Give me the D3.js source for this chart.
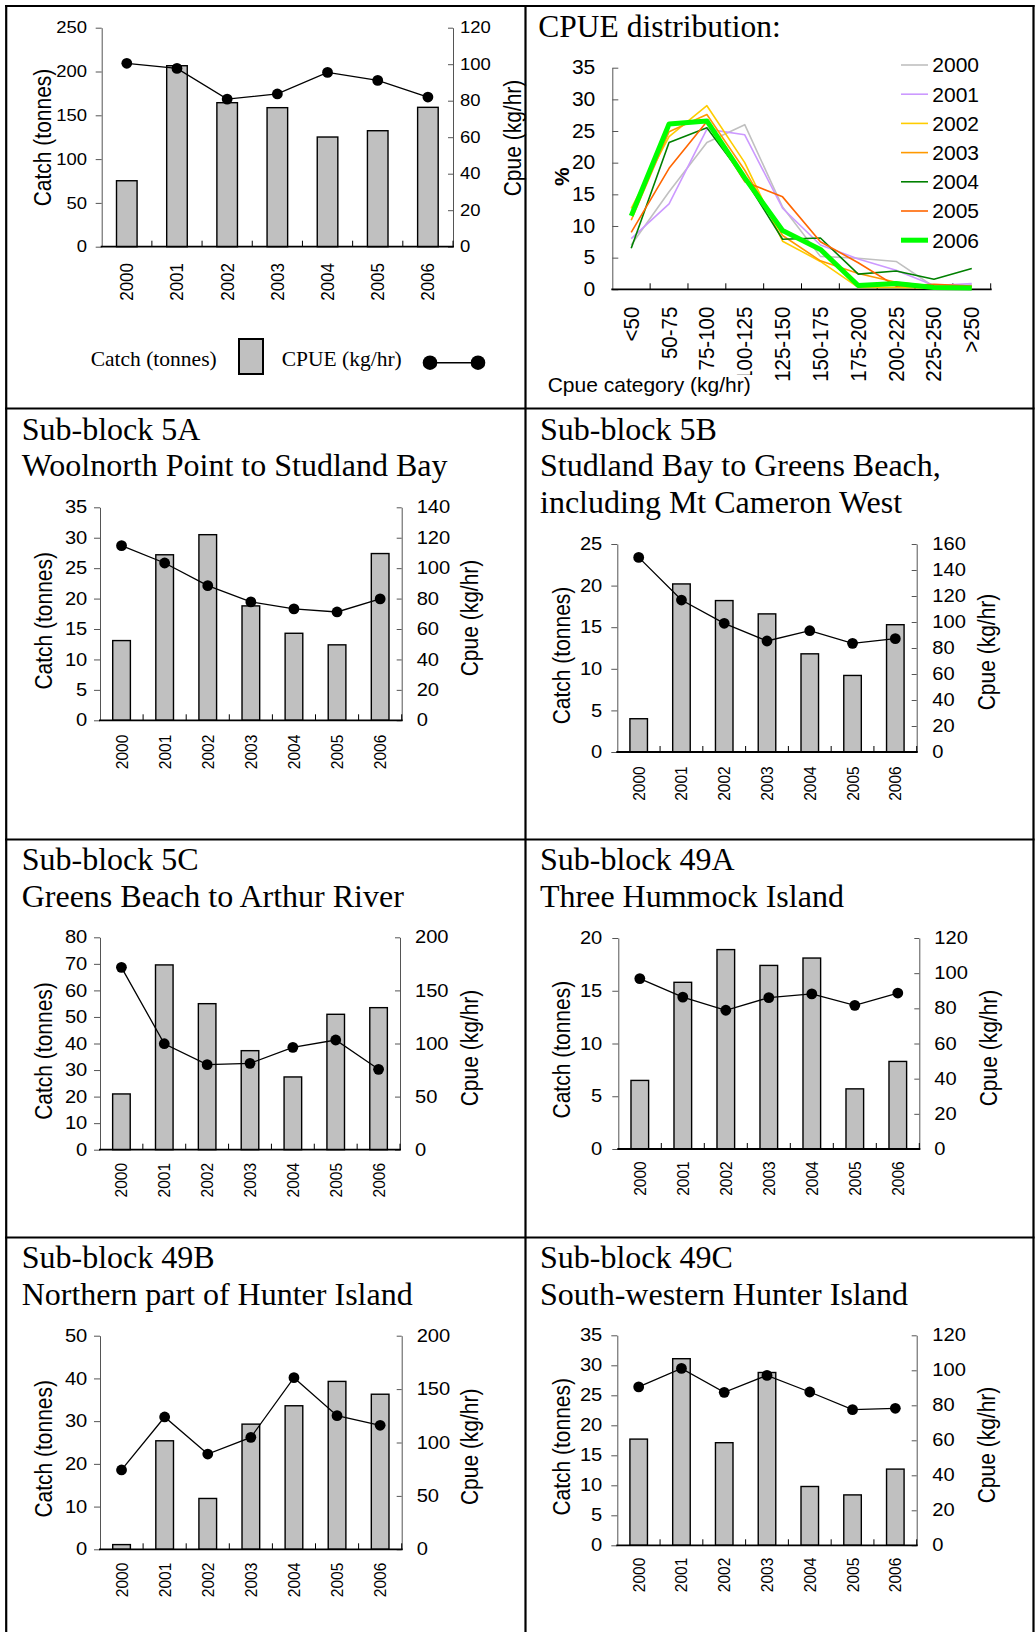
<!DOCTYPE html>
<html><head><meta charset="utf-8">
<script src="https://cdn.jsdelivr.net/npm/d3@7"></script>
<style>
body{margin:0;background:#fff;}
svg text{font-family:"Liberation Sans",Arial,sans-serif;fill:#000;}
svg text.serif{font-family:"Liberation Serif","Times New Roman",serif;}
</style></head><body>
<svg id="c" width="1035" height="1632"></svg>
<script>
// ---------------- DATA ----------------
const years = ["2000","2001","2002","2003","2004","2005","2006"];

// Overview (all sub-blocks)
const catchAll = [75.3, 206.6, 164.4, 158.7, 125.2, 132.4, 159.1];
const cpueAll  = [100.5, 97.7, 80.9, 83.7, 95.5, 91.1, 82.0];
const catchTicksAll = [0, 50, 100, 150, 200, 250];
const cpueTicksAll  = [0, 20, 40, 60, 80, 100, 120];

// CPUE distribution
const cpueCats = ["<50","50-75","75-100","100-125","125-150","150-175","175-200","200-225","225-250",">250"];
const distYears = ["2000","2001","2002","2003","2004","2005","2006"];
const dist2000 = [7.0, 15.4, 23.2, 26.0, 13.0, 5.2, 4.9, 4.4, 0.4, 0.7];
const dist2001 = [8.0, 13.5, 25.3, 24.4, 12.8, 7.0, 4.8, 3.0, 0.6, 0.9];
const dist2002 = [12.8, 24.1, 29.0, 20.0, 7.6, 4.4, 0.3, 0.3, 0.2, 0.2];
const dist2003 = [10.9, 24.9, 27.6, 18.8, 8.5, 4.5, 2.5, 1.1, 0.5, 0.4];
const dist2004 = [6.5, 23.2, 25.5, 17.5, 7.9, 8.1, 2.4, 2.9, 1.6, 3.3];
const dist2005 = [9.0, 19.1, 26.5, 17.0, 14.6, 7.5, 4.2, 0.5, 0.8, 0.5];
const dist2006 = [11.6, 26.1, 26.6, 17.6, 9.3, 6.3, 0.6, 0.9, 0.3, 0.2];
const distColors = ["#c0c0c0","#cc99ff","#ffcc00","#ff9900","#008000","#ff6600","#00ff00"];
const pctTicks = [0, 5, 10, 15, 20, 25, 30, 35];

// Sub-block 5A
const title5A = ["Sub-block 5A", "Woolnorth Point to Studland Bay"];
const catch5A = [13.1, 27.2, 30.5, 18.8, 14.3, 12.4, 27.4];
const cpue5A  = [114.8, 103.4, 88.5, 77.8, 73.2, 71.2, 79.8];
const catchTicks5A = [0, 5, 10, 15, 20, 25, 30, 35];
const cpueTicks5A  = [0, 20, 40, 60, 80, 100, 120, 140];

// Sub-block 5B
const title5B = ["Sub-block 5B", "Studland Bay to Greens Beach,", "including Mt Cameron West"];
const catch5B = [4.0, 20.2, 18.2, 16.6, 11.8, 9.2, 15.3];
const cpue5B  = [149.7, 116.9, 99.0, 85.4, 93.3, 83.6, 87.2];
const catchTicks5B = [0, 5, 10, 15, 20, 25];
const cpueTicks5B  = [0, 20, 40, 60, 80, 100, 120, 140, 160];

// Sub-block 5C
const title5C = ["Sub-block 5C", "Greens Beach to Arthur River"];
const catch5C = [21.0, 69.6, 55.0, 37.3, 27.4, 51.0, 53.5];
const cpue5C  = [171.7, 99.8, 80.1, 81.3, 96.4, 103.3, 75.7];
const catchTicks5C = [0, 10, 20, 30, 40, 50, 60, 70, 80];
const cpueTicks5C  = [0, 50, 100, 150, 200];

// Sub-block 49A
const title49A = ["Sub-block 49A", "Three Hummock Island"];
const catch49A = [6.5, 15.8, 18.9, 17.4, 18.1, 5.7, 8.3];
const cpue49A  = [96.9, 86.4, 78.9, 86.1, 88.2, 81.7, 88.7];
const catchTicks49A = [0, 5, 10, 15, 20];
const cpueTicks49A  = [0, 20, 40, 60, 80, 100, 120];

// Sub-block 49B
const title49B = ["Sub-block 49B", "Northern part of Hunter Island"];
const catch49B = [1.1, 25.4, 11.9, 29.3, 33.6, 39.3, 36.3];
const cpue49B  = [74.3, 123.9, 89.2, 104.8, 160.7, 125.1, 116.1];
const catchTicks49B = [0, 10, 20, 30, 40, 50];
const cpueTicks49B  = [0, 50, 100, 150, 200];

// Sub-block 49C
const title49C = ["Sub-block 49C", "South-western Hunter Island"];
const catch49C = [17.7, 31.1, 17.1, 28.8, 9.8, 8.4, 12.7];
const cpue49C  = [90.5, 101.1, 87.4, 97.1, 87.6, 77.5, 78.3];
const catchTicks49C = [0, 5, 10, 15, 20, 25, 30, 35];
const cpueTicks49C  = [0, 20, 40, 60, 80, 100, 120];

// ---------------- LAYOUT ----------------
const svg = d3.select("#c");

// horizontally widen axis tick labels while keeping their anchor point
function stretch(sel, sx) {
  sel.each(function() {
    const t = d3.select(this);
    const x = +t.attr("x") || 0;
    t.attr("x", x / sx).attr("transform", `scale(${sx},1)`);
  });
}

function barPanel(lay, catchVals, cpueVals, ticksL, ticksR) {
  const g = svg.append("g");
  const x = d3.scaleBand().domain(years).range([lay.L, lay.R]);
  const bw = x.bandwidth();
  const yL = d3.scaleLinear().domain([0, d3.max(ticksL)]).range([lay.y0, lay.top]);
  const yR = d3.scaleLinear().domain([0, d3.max(ticksR)]).range([lay.y0, lay.top]);
  const rows = years.map((y, i) => ({y, c: catchVals[i], p: cpueVals[i]}));

  g.selectAll("rect.bar").data(rows).join("rect").attr("class","bar")
    .attr("x", d => x(d.y) + bw * 0.295).attr("width", bw * 0.41)
    .attr("y", d => yL(d.c)).attr("height", d => lay.y0 - yL(d.c))
    .attr("fill", "#c0c0c0").attr("stroke", "#000").attr("stroke-width", 1.4);

  const al = g.append("g").attr("transform", `translate(${lay.L},0)`)
    .call(d3.axisLeft(yL).tickValues(ticksL).tickSizeInner(6).tickSizeOuter(0)
      .tickPadding(lay.L - 6 - lay.lle));
  al.select(".domain").attr("stroke", "#555");
  al.selectAll(".tick line").attr("stroke", "#555");
  al.selectAll("text").attr("font-size", lay.tf).call(stretch, lay.sx);

  const ar = g.append("g").attr("transform", `translate(${lay.R},0)`)
    .call(d3.axisRight(yR).tickValues(ticksR).tickSizeInner(-5).tickSizeOuter(0)
      .tickPadding(lay.rls - lay.R));
  ar.select(".domain").attr("stroke", "#555");
  ar.selectAll(".tick line").attr("stroke", "#555");
  ar.selectAll("text").attr("font-size", lay.tf).call(stretch, lay.sx);

  // x axis baseline and separators
  g.append("line").attr("x1", lay.L - 1).attr("x2", lay.R + 1)
    .attr("y1", lay.y0).attr("y2", lay.y0).attr("stroke", "#000").attr("stroke-width", 1.8);
  const bounds = years.slice(1).map(y => x(y)).concat([x.range()[1]]);
  g.selectAll("line.sep").data(bounds).join("line").attr("class","sep")
    .attr("x1", d => d).attr("x2", d => d).attr("y1", lay.y0).attr("y2", lay.y0 - 6)
    .attr("stroke", "#000").attr("stroke-width", 1);

  const xa = g.append("g").attr("transform", `translate(0,${lay.y0})`)
    .call(d3.axisBottom(x).tickSize(0).tickPadding(0));
  xa.select(".domain").remove();
  xa.selectAll("text").attr("transform", `scale(${lay.ysx},1) rotate(-90)`).attr("text-anchor", "end")
    .attr("x", -(lay.ye - lay.y0)).attr("y", 0).attr("dy", "0.35em").attr("font-size", lay.yf);

  const line = d3.line().x(d => x(d.y) + bw / 2).y(d => yR(d.p));
  g.append("path").datum(rows).attr("d", line).attr("fill", "none")
    .attr("stroke", "#000").attr("stroke-width", 1.3);
  g.selectAll("circle").data(rows).join("circle")
    .attr("cx", d => x(d.y) + bw / 2).attr("cy", d => yR(d.p)).attr("r", 5.4).attr("fill", "#000");

  g.append("text").attr("transform", `translate(${lay.lt[0]},${lay.lt[1]}) scale(1.12,1) rotate(-90)`)
    .attr("text-anchor", "middle").attr("dy", "0.35em").attr("font-size", lay.af).text("Catch (tonnes)");
  g.append("text").attr("transform", `translate(${lay.rt[0]},${lay.rt[1]}) scale(1.12,1) rotate(-90)`)
    .attr("text-anchor", "middle").attr("dy", "0.35em").attr("font-size", lay.af).text("Cpue (kg/hr)");

  if (lay.title) {
    g.selectAll("text.ttl").data(lay.title).join("text").attr("class", "serif ttl")
      .attr("x", lay.tx).attr("y", (d, i) => lay.ty + i * 36.6)
      .attr("font-size", 32).text(d => d);
  }
  return g;
}

// Overview
const gOv = barPanel({L:101.7, R:453, y0:246.7, top:27.7, lle:87, rls:460,
  lt:[43,137.5], rt:[513,138], ye:263, tf:16.5, sx:1.12, yf:17, ysx:1.08, af:21},
  catchAll, cpueAll, catchTicksAll, cpueTicksAll);
// legend
gOv.append("text").attr("class","serif").attr("x", 90.7).attr("y", 366).attr("font-size", 21.5).text("Catch (tonnes)");
gOv.append("rect").attr("x", 239).attr("y", 339).attr("width", 24).attr("height", 35)
  .attr("fill", "#c0c0c0").attr("stroke", "#000").attr("stroke-width", 2);
gOv.append("text").attr("class","serif").attr("x", 281.7).attr("y", 366).attr("font-size", 21.5).text("CPUE (kg/hr)");
gOv.append("line").attr("x1", 430).attr("x2", 478).attr("y1", 362.7).attr("y2", 362.7).attr("stroke", "#000").attr("stroke-width", 1.5);
gOv.selectAll("circle.lg").data([430, 478]).join("circle").attr("class","lg")
  .attr("cx", d => d).attr("cy", 362.7).attr("r", 7.3).attr("fill", "#000");

const sub = {tf:17.5, sx:1.15, yf:15.5, ysx:1.1, af:21};
barPanel(Object.assign({L:100, R:401.7, y0:720.3, top:507.3, lle:87.3, rls:416.7, lt:[43.3,620.8], rt:[470,618],
  ye:734.7, title:title5A, tx:21.7, ty:439.7}, sub), catch5A, cpue5A, catchTicks5A, cpueTicks5A);
barPanel(Object.assign({L:617.3, R:916.7, y0:752, top:544, lle:602.3, rls:932.3, lt:[561.7,655.5], rt:[986.7,652],
  ye:766.3, title:title5B, tx:540, ty:439.7}, sub), catch5B, cpue5B, catchTicks5B, cpueTicks5B);
barPanel(Object.assign({L:100, R:400, y0:1149.7, top:937.3, lle:87.3, rls:415, lt:[43.3,1051], rt:[470,1048],
  ye:1163, title:title5C, tx:21.7, ty:870.3}, sub), catch5C, cpue5C, catchTicks5C, cpueTicks5C);
barPanel(Object.assign({L:618.3, R:919.3, y0:1149, top:938, lle:602.3, rls:934.3, lt:[561.7,1049.7], rt:[988.3,1048],
  ye:1161.3, title:title49A, tx:540, ty:870.3}, sub), catch49A, cpue49A, catchTicks49A, cpueTicks49A);
barPanel(Object.assign({L:100, R:401.7, y0:1549.3, top:1335.7, lle:87.3, rls:416.7, lt:[43.3,1448.8], rt:[470,1446.8],
  ye:1562.7, title:title49B, tx:21.7, ty:1268.3}, sub), catch49B, cpue49B, catchTicks49B, cpueTicks49B);
barPanel(Object.assign({L:617.3, R:916.7, y0:1545.3, top:1335.3, lle:602.3, rls:932.3, lt:[561.7,1446.8], rt:[986.7,1445],
  ye:1557.7, title:title49C, tx:540, ty:1268.3}, sub), catch49C, cpue49C, catchTicks49C, cpueTicks49C);

// ---------------- CPUE distribution ----------------
(function(){
  const g = svg.append("g");
  const L = 612.3, R = 990.7, y0 = 289.3, top = 67.7;
  const x = d3.scaleBand().domain(cpueCats).range([L, R]);
  const bw = x.bandwidth();
  const y = d3.scaleLinear().domain([0, d3.max(pctTicks)]).range([y0, top]);
  const series = [dist2000, dist2001, dist2002, dist2003, dist2004, dist2005, dist2006];

  g.append("text").attr("class","serif").attr("x", 538.3).attr("y", 36.7).attr("font-size", 31.5).text("CPUE distribution:");

  const ay = g.append("g").attr("transform", `translate(${L},0)`)
    .call(d3.axisLeft(y).tickValues(pctTicks).tickSizeInner(-6).tickSizeOuter(0).tickPadding(17));
  ay.select(".domain").attr("stroke", "#555");
  ay.selectAll(".tick line").attr("stroke", "#555");
  ay.selectAll("text").attr("font-size", 19.5).call(stretch, 1.08);

  g.append("line").attr("x1", L - 1).attr("x2", R + 1).attr("y1", y0).attr("y2", y0)
    .attr("stroke", "#000").attr("stroke-width", 1.8);
  const bounds = cpueCats.slice(1).map(c => x(c)).concat([x.range()[1]]);
  g.selectAll("line.sep").data(bounds).join("line").attr("class","sep")
    .attr("x1", d => d).attr("x2", d => d).attr("y1", y0).attr("y2", y0 - 6)
    .attr("stroke", "#000").attr("stroke-width", 1);

  const xa = g.append("g").attr("transform", `translate(0,${y0})`)
    .call(d3.axisBottom(x).tickSize(0).tickPadding(0));
  xa.select(".domain").remove();
  xa.selectAll("text").attr("transform", "scale(1.05,1) rotate(-90)").attr("text-anchor", "end")
    .attr("x", -17.4).attr("y", 0).attr("dy", "0.35em").attr("font-size", 20.5);

  const line = d3.line().x((d, i) => x(cpueCats[i]) + bw / 2).y(d => y(d));
  series.forEach((s, k) => {
    g.append("path").datum(s).attr("d", line).attr("fill", "none")
      .attr("stroke", distColors[k]).attr("stroke-width", k === 6 ? 5 : 1.6)
      .attr("stroke-linejoin", "round");
  });

  // legend
  distYears.forEach((yr, k) => {
    const ly = 65 + k * 29.2;
    g.append("line").attr("x1", 901).attr("x2", 928).attr("y1", ly).attr("y2", ly)
      .attr("stroke", distColors[k]).attr("stroke-width", k === 6 ? 5 : 1.6);
    g.append("text").attr("x", 932.3).attr("y", ly).attr("dy", "0.35em").attr("font-size", 21).text(yr);
  });

  g.append("text").attr("transform", "translate(561.7,176.7) rotate(-90)").attr("text-anchor", "middle")
    .attr("dy", "0.35em").attr("font-size", 21).attr("font-weight", "bold").text("%");

  g.append("rect").attr("x", 546).attr("y", 375).attr("width", 207).attr("height", 24).attr("fill", "#fff");
  g.append("text").attr("x", 547.7).attr("y", 391.7).attr("font-size", 21).text("Cpue category (kg/hr)");
})();

// ---------------- Table borders ----------------
const bl = [
  [6.2, 5, 6.2, 1632], [525.5, 5, 525.5, 1632], [1033.5, 5, 1033.5, 1632],
  [5, 6, 1034.5, 6], [5, 408.5, 1034.5, 408.5], [5, 839.5, 1034.5, 839.5], [5, 1237.5, 1034.5, 1237.5]
];
svg.selectAll("line.border").data(bl).join("line").attr("class","border")
  .attr("x1", d => d[0]).attr("y1", d => d[1]).attr("x2", d => d[2]).attr("y2", d => d[3])
  .attr("stroke", "#000").attr("stroke-width", 2.2);
</script>
</body></html>
